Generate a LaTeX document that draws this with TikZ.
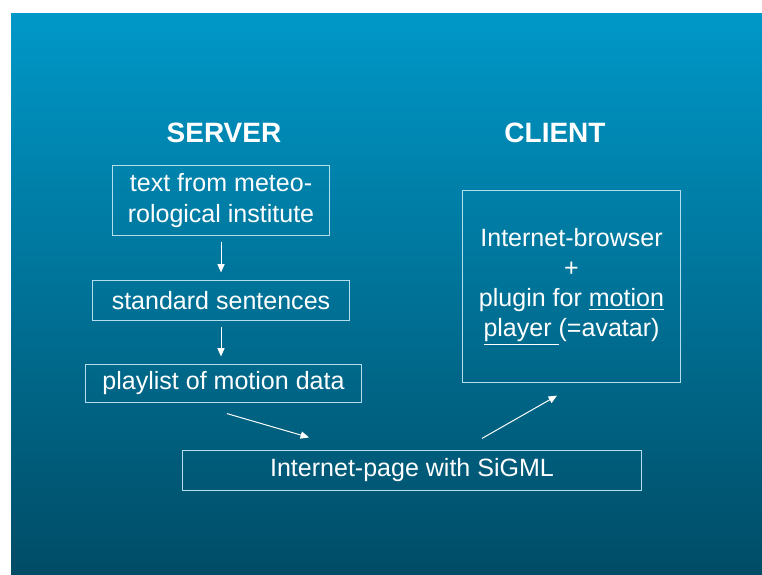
\documentclass[tikz,border=0pt]{standalone}
\usepackage{fontspec}
\setmainfont{Liberation Sans}
\usepackage{xcolor}
\definecolor{slidetop}{RGB}{0, 152, 200}
\definecolor{slidebottom}{RGB}{0, 76, 102}
\definecolor{boxline}{RGB}{180, 222, 236}
\usetikzlibrary{arrows.meta, positioning, calc}

\begin{document}
\begin{tikzpicture}[
    x=0.025cm, y=-0.025cm,
    box/.style={rectangle, draw=boxline, line width=0.7pt, inner sep=0pt,
                align=center, text=white,
                font=\fontsize{17.8}{21.5}\selectfont},
    header/.style={text=white, font=\fontsize{19.9}{24}\selectfont\bfseries},
    arrow/.style={-{Triangle[length=2.1mm, width=1.8mm]}, line width=0.7pt, white}
]
    % slide background
    \useasboundingbox (0,0) rectangle (762,574);
    \shade[top color=slidetop, bottom color=slidebottom] (11,13) rectangle (762,574);

    \node[header] (server) at (224,133) {SERVER};
    \node[header] (client) at (555,133) {CLIENT};

    \node[box, minimum width=5.43cm, minimum height=1.73cm] (meteo) at (221,200.5)
        {text from meteo-\\rological institute};
    \node[box, minimum width=6.4cm, minimum height=0.98cm] (sentences) at (221,300.5)
        {standard sentences};
    \node[box, minimum width=6.88cm, minimum height=0.93cm] (playlist) at (223.5,383.5)
        {playlist of motion data};
    \node[box, minimum width=11.45cm, minimum height=0.98cm] (page) at (412,470.5)
        {Internet-page with SiGML};
    \node[box, minimum width=5.43cm, minimum height=4.78cm] (browser) at (571.5,286.5)
        {Internet-browser\\+\\plugin for \underline{motion}\\\underline{player\ }(=avatar)};

    \coordinate (pl-out) at ($(playlist.south)+(3.5,11)$);
    \coordinate (pg-in) at ($(page.north)+(-103,-13)$);
    \coordinate (pg-out) at ($(page.north)+(70,-12)$);
    \coordinate (br-in) at ($(browser.south)+(-14.5,13)$);

    \draw[arrow, shorten <=0.15cm, shorten >=0.2cm] (meteo.south) -- (sentences.north);
    \draw[arrow, shorten <=0.15cm, shorten >=0.2cm] (sentences.south) -- (sentences.south |- playlist.north);
    \draw[arrow] (pl-out) -- (pg-in);
    \draw[arrow] (pg-out) -- (br-in);
\end{tikzpicture}
\end{document}
